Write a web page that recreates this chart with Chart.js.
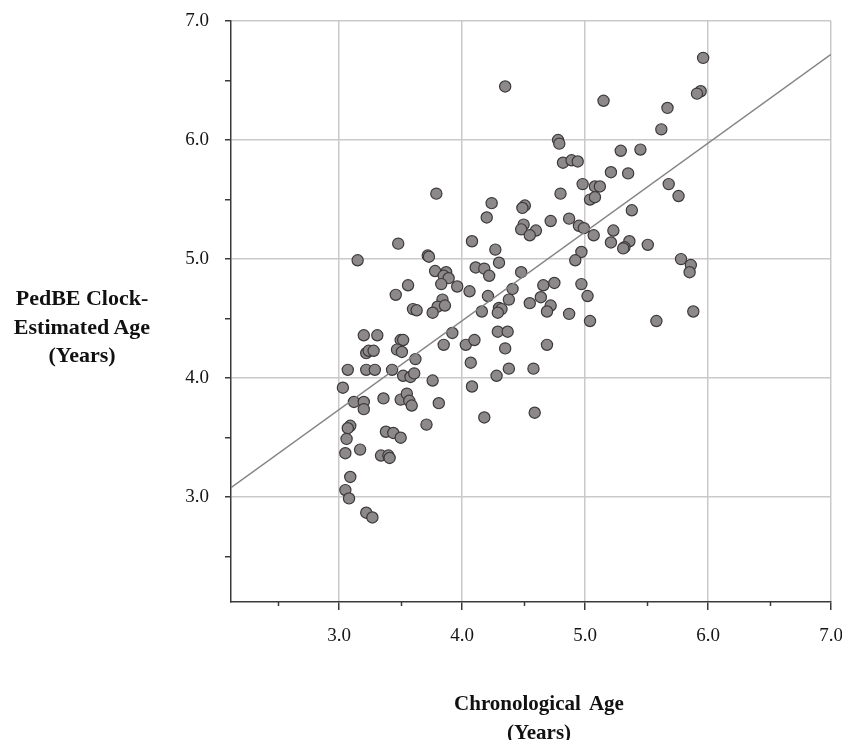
<!DOCTYPE html>
<html lang="en">
<head>
    <meta charset="UTF-8">
    <title>PedBE Clock-Estimated Age vs Chronological Age</title>
    <script src="https://cdn.jsdelivr.net/npm/chart.js"></script>
    <style>
        body {
            margin: 0;
            background: #fff;
        }
        .wrap {
            position: relative;
            width: 842px;
            height: 740px;
        }
        .axis-title {
            position: absolute;
            font-family: 'Liberation Serif', 'Times New Roman', serif;
            font-weight: bold;
            line-height: 28.5px;
            color: #111;
            text-align: center;
        }
        #yTitle { left: 0; top: 284px; width: 164px; font-size: 22px; }
        #xTitle { left: 419px; top: 689px; width: 240px; font-size: 21px; word-spacing: 4px; }
    </style>
</head>
<body>
    <div class="wrap">
        <canvas id="ageChart" width="842" height="740"></canvas>
        <div class="axis-title" id="yTitle">PedBE Clock-<br>Estimated Age<br>(Years)</div>
        <div class="axis-title" id="xTitle">Chronological Age<br>(Years)</div>
    </div>

    <script>
        // chronological age (x)
        const chronAge = [
            4.35, 5.96, 5.94, 5.91, 5.67, 5.15, 5.62, 4.78, 4.79, 4.82,
            4.89, 4.94, 5.29, 5.45, 4.98, 5.21, 5.35, 5.68, 4.80, 5.08,
            5.12, 5.04, 5.08, 5.76, 5.38, 4.51, 4.49, 4.72, 4.87, 4.95,
            4.99, 4.50, 4.48, 4.60, 4.55, 5.23, 5.07, 5.21, 5.36, 5.32,
            5.31, 5.51, 4.97, 4.92, 5.78, 5.86, 5.85, 5.88, 4.48, 4.75,
            4.66, 4.97, 5.02, 4.64, 4.55, 4.72, 4.69, 4.87, 5.04, 5.58,
            4.69, 4.58, 4.59, 3.79, 4.24, 4.20, 4.08, 3.48, 3.15, 3.72,
            3.73, 4.27, 4.30, 4.11, 4.18, 4.22, 3.78, 3.87, 3.85, 3.89,
            3.56, 3.83, 3.96, 4.06, 3.46, 4.21, 4.41, 4.38, 3.84, 3.80,
            3.86, 3.60, 3.63, 3.76, 4.16, 4.30, 4.32, 4.29, 3.20, 3.31,
            3.50, 3.52, 3.22, 3.24, 3.28, 3.47, 3.51, 3.62, 3.92, 3.85,
            4.03, 4.10, 4.07, 4.29, 4.37, 4.35, 4.38, 4.28, 4.08, 4.18,
            3.07, 3.22, 3.29, 3.43, 3.52, 3.58, 3.61, 3.76, 3.03, 3.12,
            3.20, 3.20, 3.36, 3.50, 3.55, 3.57, 3.59, 3.81, 3.71, 3.09,
            3.07, 3.06, 3.05, 3.17, 3.38, 3.44, 3.50, 3.34, 3.40, 3.41,
            3.09, 3.05, 3.08, 3.22, 3.27
        ];
        // PedBE clock-estimated age (y)
        const clockAge = [
            6.45, 6.69, 6.41, 6.39, 6.27, 6.33, 6.09, 6.00, 5.97, 5.81,
            5.83, 5.82, 5.91, 5.92, 5.63, 5.73, 5.72, 5.63, 5.55, 5.61,
            5.61, 5.50, 5.52, 5.53, 5.41, 5.45, 5.43, 5.32, 5.34, 5.28,
            5.26, 5.29, 5.25, 5.24, 5.20, 5.24, 5.20, 5.14, 5.15, 5.10,
            5.09, 5.12, 5.06, 4.99, 5.00, 4.95, 4.89, 4.56, 4.89, 4.80,
            4.78, 4.79, 4.69, 4.68, 4.63, 4.61, 4.56, 4.54, 4.48, 4.48,
            4.28, 4.08, 3.71, 5.55, 5.47, 5.35, 5.15, 5.13, 4.99, 5.03,
            5.02, 5.08, 4.97, 4.93, 4.92, 4.86, 4.90, 4.89, 4.86, 4.84,
            4.78, 4.79, 4.77, 4.73, 4.70, 4.69, 4.75, 4.66, 4.66, 4.60,
            4.61, 4.58, 4.57, 4.55, 4.56, 4.59, 4.58, 4.55, 4.36, 4.36,
            4.32, 4.32, 4.21, 4.23, 4.23, 4.24, 4.22, 4.16, 4.38, 4.28,
            4.28, 4.32, 4.13, 4.39, 4.39, 4.25, 4.08, 4.02, 3.93, 3.67,
            4.07, 4.07, 4.07, 4.07, 4.02, 4.01, 4.04, 3.98, 3.92, 3.80,
            3.80, 3.74, 3.83, 3.82, 3.87, 3.81, 3.77, 3.79, 3.61, 3.60,
            3.58, 3.49, 3.37, 3.40, 3.55, 3.54, 3.50, 3.35, 3.35, 3.33,
            3.17, 3.06, 2.99, 2.87, 2.83
        ];
        // fit line end points
        const fitX = [2.12, 7.0];
        const fitY = [3.08, 6.72];

        // axis ticks
        const xMajorTicks = [3, 4, 5, 6, 7];
        const xMinorTicks = [2.5, 3.5, 4.5, 5.5, 6.5];
        const yTicks = [2.5, 3, 3.5, 4, 4.5, 5, 5.5, 6, 6.5, 7];

        const gridColor = '#c9c9c9';
        const axisColor = '#3a3a3a';
        const tickFont = { family: "'Liberation Serif', 'Times New Roman', serif", size: 19 };

        const points = chronAge.map((x, i) => ({ x: x, y: clockAge[i] }));
        const fitLine = fitX.map((x, i) => ({ x: x, y: fitY[i] }));

        // short minor tick marks under the x axis
        const minorTicksPlugin = {
            id: 'minorTicks',
            afterDraw(chart) {
                const ctx = chart.ctx;
                const xs = chart.scales.x;
                const y0 = chart.chartArea.bottom;
                ctx.save();
                ctx.strokeStyle = axisColor;
                ctx.lineWidth = 1.5;
                xMinorTicks.forEach(v => {
                    const px = Math.round(xs.getPixelForValue(v)) + 0.5;
                    ctx.beginPath();
                    ctx.moveTo(px, y0);
                    ctx.lineTo(px, y0 + 4);
                    ctx.stroke();
                });
                ctx.restore();
            }
        };

        new Chart(document.getElementById('ageChart'), {
            type: 'scatter',
            data: {
                datasets: [
                    {
                        type: 'line',
                        data: fitLine,
                        borderColor: '#858585',
                        borderWidth: 1.4,
                        pointRadius: 0,
                        fill: false
                    },
                    {
                        data: points,
                        backgroundColor: '#8d898a',
                        borderColor: '#3b3939',
                        borderWidth: 1.2,
                        pointRadius: 5.6
                    }
                ]
            },
            options: {
                responsive: false,
                animation: false,
                layout: { padding: { left: 0, right: 11, top: 21, bottom: 0 } },
                plugins: {
                    legend: { display: false },
                    tooltip: { enabled: false }
                },
                scales: {
                    x: {
                        type: 'linear',
                        min: 2.12,
                        max: 7.0,
                        afterBuildTicks: s => { s.ticks = xMajorTicks.map(v => ({ value: v })); },
                        afterFit: s => { s.height = 138; s.paddingLeft = 0; s.paddingRight = 0; },
                        ticks: {
                            font: tickFont,
                            color: '#151515',
                            padding: 15,
                            maxRotation: 0,
                            callback: v => v.toFixed(1)
                        },
                        grid: {
                            color: gridColor,
                            lineWidth: 1.5,
                            tickColor: axisColor,
                            tickLength: 8
                        },
                        border: { display: true, color: axisColor, width: 1.5 }
                    },
                    y: {
                        type: 'linear',
                        min: 2.12,
                        max: 7.0,
                        afterBuildTicks: s => { s.ticks = yTicks.map(v => ({ value: v })); },
                        afterFit: s => { s.width = 231; s.paddingTop = 0; s.paddingBottom = 0; },
                        ticks: {
                            font: tickFont,
                            color: '#151515',
                            padding: 16,
                            callback: v => Number.isInteger(v) ? v.toFixed(1) : ''
                        },
                        grid: {
                            color: c => Number.isInteger(c.tick.value) ? gridColor : 'rgba(0,0,0,0)',
                            lineWidth: 1.5,
                            tickColor: axisColor,
                            tickLength: 6
                        },
                        border: { display: true, color: axisColor, width: 1.5 }
                    }
                }
            },
            plugins: [minorTicksPlugin]
        });
    </script>
</body>
</html>
